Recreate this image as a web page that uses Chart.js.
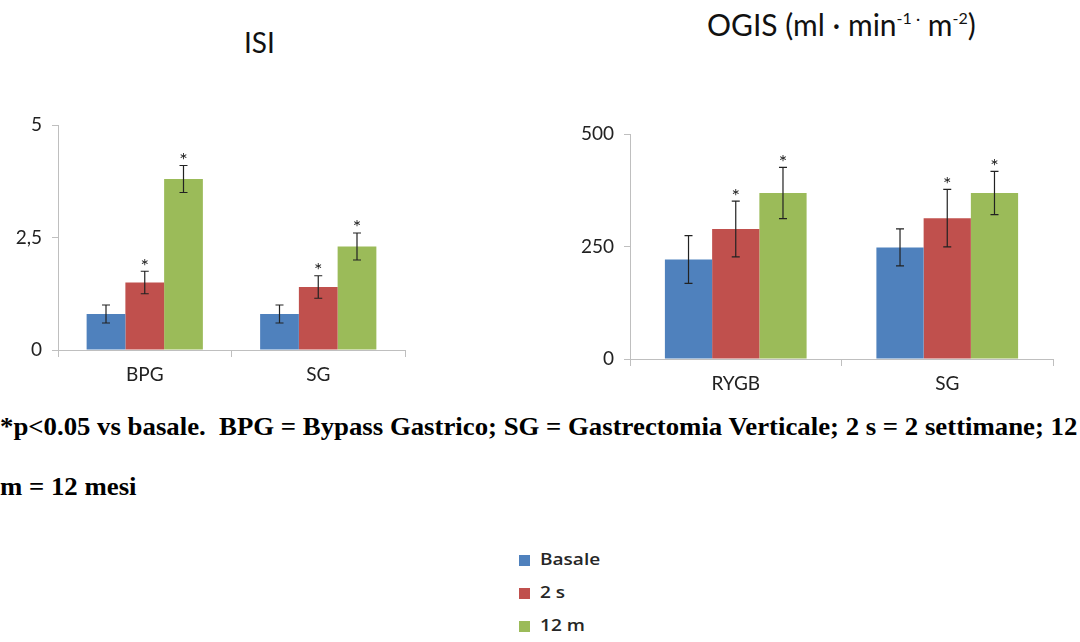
<!DOCTYPE html>
<html>
<head>
<meta charset="utf-8">
<script src="https://cdn.jsdelivr.net/npm/chart.js@4"></script>
<style>
  body { margin:0; background:#fff; width:1080px; height:642px; position:relative; overflow:hidden; font-family:Lato, sans-serif; }
  .abs { position:absolute; }
  .title { color:#111; font-size:28px; white-space:nowrap; }
  .title sup { font-size:16px; vertical-align:12px; }
  .caption { font-family:"Liberation Serif", "Times New Roman", serif; font-weight:bold; font-size:26px; color:#000; white-space:nowrap; left:0; line-height:26px; transform:scaleX(1.03); transform-origin:0 0; }
  #legend .row { position:absolute; left:519px; height:20px; line-height:20px; font-family:"Open Sans", sans-serif; font-weight:600; font-size:17px; color:#262626; white-space:nowrap; }
  #legend .box { display:inline-block; width:11px; height:11px; margin-right:10px; vertical-align:-1px; }
  #legend .lbl { display:inline-block; transform:scaleX(1.12); transform-origin:0 50%; }
</style>
</head>
<body>
<div class="abs title" id="t1" style="left:244px; top:25px;">ISI</div>
<div class="abs title" id="t2" style="left:707px; top:6px; font-size:30px;">OGIS (ml · min<sup>-1 ·</sup> m<sup>-2</sup>)</div>
<canvas id="dia1" class="abs" width="420" height="300" style="left:0; top:100px;"></canvas>
<canvas id="dia2" class="abs" width="520" height="300" style="left:560px; top:100px;"></canvas>
<div class="abs caption" style="top:414px;">*p&lt;0.05 vs basale.&nbsp; BPG = Bypass Gastrico; SG = Gastrectomia Verticale; 2 s = 2 settimane; 12</div>
<div class="abs caption" style="top:474px;">m = 12 mesi</div>
<div id="legend"></div>
<script>
// serie e colori
const series = ["Basale", "2 s", "12 m"];
const colors = ["#4F81BD", "#C0504D", "#9BBB59"];

// ISI
const isiCats = ["BPG", "SG"];
const isiBasale = [0.8, 0.8];
const isi2s = [1.5, 1.4];
const isi12m = [3.8, 2.3];
const isiErrBasale = [0.2, 0.2];
const isiErr2s = [0.25, 0.25];
const isiErr12m = [0.3, 0.3];
const isiTicks = [0, 2.5, 5];

// OGIS
const ogisCats = ["RYGB", "SG"];
const ogisBasale = [221, 248];
const ogis2s = [289, 313];
const ogis12m = [369, 369];
const ogisErrBasale = [53, 41];
const ogisErr2s = [62, 64];
const ogisErr12m = [57, 48];
const ogisTicks = [0, 250, 500];

// asterisco = p<0.05 vs basale
const signif = [false, true, true];

const axisColor = "#bfbfbf";
const yFont = { family: "Lato, sans-serif", size: 19 };
const xFont = { family: "Lato, sans-serif", size: 19 };

// barre di errore + asterischi
const errPlugin = {
  id: "errbars",
  afterDatasetsDraw(chart) {
    const ctx = chart.ctx;
    const y = chart.scales.y;
    chart.data.datasets.forEach((ds, i) => {
      const meta = chart.getDatasetMeta(i);
      meta.data.forEach((bar, j) => {
        const v = ds.data[j], e = ds.err[j];
        const top = y.getPixelForValue(v + e);
        const bot = y.getPixelForValue(v - e);
        ctx.save();
        ctx.strokeStyle = "#222";
        ctx.lineWidth = 1.2;
        ctx.beginPath();
        ctx.moveTo(bar.x, top); ctx.lineTo(bar.x, bot);
        ctx.moveTo(bar.x - 4, top); ctx.lineTo(bar.x + 4, top);
        ctx.moveTo(bar.x - 4, bot); ctx.lineTo(bar.x + 4, bot);
        ctx.stroke();
        if (ds.star) {
          ctx.fillStyle = "#222";
          ctx.font = "20px Lato, sans-serif";
          ctx.textAlign = "center";
          ctx.textBaseline = "middle";
          ctx.fillText("*", bar.x, top - 5);
        }
        ctx.restore();
      });
    });
  }
};

function makeChart(el, cats, vals, errs, ticks, pad, yWidth, xHeight, fmt) {
  return new Chart(el, {
    type: "bar",
    data: {
      labels: cats,
      datasets: series.map((s, i) => ({
        label: s,
        data: vals[i],
        err: errs[i],
        star: signif[i],
        backgroundColor: colors[i],
        barPercentage: 1.0,
        categoryPercentage: 0.67
      }))
    },
    options: {
      responsive: false,
      animation: false,
      layout: { padding: pad },
      plugins: { legend: { display: false }, tooltip: { enabled: false } },
      scales: {
        x: {
          grid: { drawOnChartArea: false, tickLength: 7, color: axisColor },
          border: { color: axisColor },
          ticks: { font: xFont, color: "#222", padding: 6 },
          afterFit(s) { s.height = xHeight; }
        },
        y: {
          min: ticks[0],
          max: ticks[ticks.length - 1],
          afterBuildTicks(s) { s.ticks = ticks.map(v => ({ value: v })); },
          grid: { drawOnChartArea: false, tickLength: 6, color: axisColor },
          border: { color: axisColor },
          ticks: { font: yFont, color: "#222", padding: 10, callback: fmt },
          afterFit(s) { s.width = yWidth; }
        }
      }
    },
    plugins: [errPlugin]
  });
}

makeChart(document.getElementById("dia1"), isiCats,
  [isiBasale, isi2s, isi12m], [isiErrBasale, isiErr2s, isiErr12m], isiTicks,
  { top: 25, right: 15, left: 0, bottom: 0 }, 58, 50,
  v => String(v).replace(".", ","));

makeChart(document.getElementById("dia2"), ogisCats,
  [ogisBasale, ogis2s, ogis12m], [ogisErrBasale, ogisErr2s, ogisErr12m], ogisTicks,
  { top: 34, right: 27, left: 0, bottom: 0 }, 70, 41,
  v => String(v));

// legenda
const legend = document.getElementById("legend");
series.forEach((s, i) => {
  const row = document.createElement("div");
  row.className = "row";
  row.style.top = (549 + i * 33) + "px";
  row.innerHTML = '<span class="box" style="background:' + colors[i] + '"></span><span class="lbl">' + s + '</span>';
  legend.appendChild(row);
});
</script>
</body>
</html>
